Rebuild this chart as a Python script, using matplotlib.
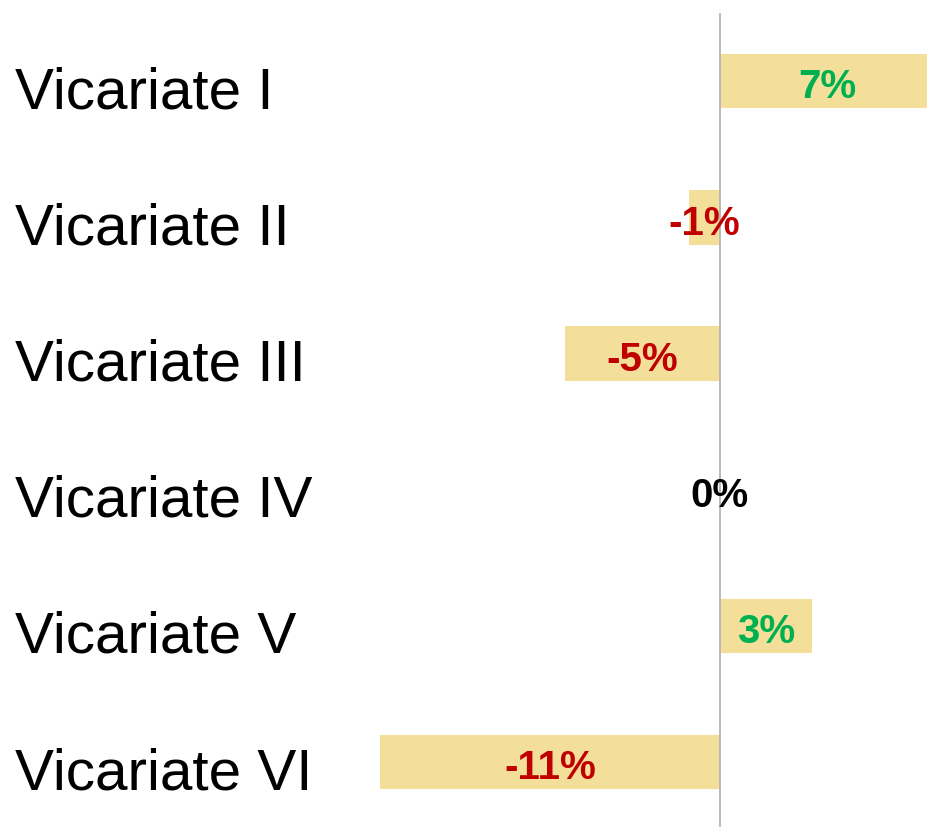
import matplotlib
matplotlib.use("Agg")
import matplotlib.pyplot as plt
import matplotlib.transforms as mtransforms

categories = ["Vicariate I", "Vicariate II", "Vicariate III", "Vicariate IV", "Vicariate V", "Vicariate VI"]
values = [7, -1, -5, 0, 3, -11]
value_labels = ["7%", "-1%", "-5%", "0%", "3%", "-11%"]

BAR_COLOR = "#F3DF9A"
POS_COLOR = "#00B050"
NEG_COLOR = "#C00000"
ZERO_COLOR = "#000000"

plt.rcParams['font.family'] = ['Liberation Sans', 'DejaVu Sans']

fig = plt.figure(figsize=(9.28, 8.27), dpi=100)
ax = fig.add_axes([0, 0, 1, 1])

ypos = list(range(len(categories)))
ax.barh(ypos, values, height=0.4, color=BAR_COLOR, edgecolor='none', zorder=1)

ax.set_xlim(-23.33, 6.752)
ax.set_ylim(5.476, -0.596)

ax.vlines(0, -0.5, 6, color="#B4B4B4", linewidth=1.3, zorder=2)

trans = mtransforms.blended_transform_factory(ax.transAxes, ax.transData)
for y, cat in zip(ypos, categories):
    ax.text(15 / 928, y + 0.198, cat, transform=trans, ha='left', va='baseline',
            fontsize=42, color='black')

for y, v, lab in zip(ypos, values, value_labels):
    if v > 0:
        c = POS_COLOR
    elif v < 0:
        c = NEG_COLOR
    else:
        c = ZERO_COLOR
    ax.text(v / 2, y + 0.126, lab, ha='center', va='baseline', fontsize=29,
            fontweight='bold', color=c, zorder=3)

ax.axis('off')
fig.savefig("out.png", dpi=100)
